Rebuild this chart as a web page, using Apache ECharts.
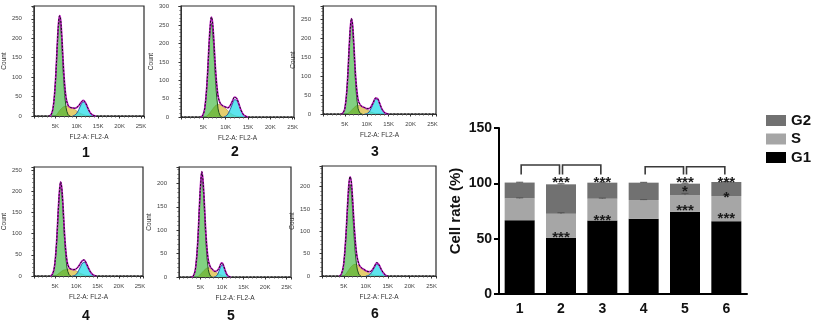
<!DOCTYPE html>
<html><head><meta charset="utf-8">
<script src="https://cdn.jsdelivr.net/npm/echarts@6.0.0/dist/echarts.min.js"></script>
<style>html,body{margin:0;padding:0;background:#fff}#c{width:813px;height:331px}</style>
</head><body><div id="c"></div>
<script>
// ---------- bar chart data ----------
const groups = ['1','2','3','4','5','6'];
const g1Rate = [66.7, 50.8, 66.5, 68.0, 74.3, 65.8];
const sRate  = [19.7, 21.7, 19.6, 16.9, 15.1, 22.7];
const g2Rate = [14.3, 26.6, 14.5, 15.7, 10.3, 12.7];
const sErr   = [0.5, 1.0, 0.6, 0.4, 1.5, 0.8];
const g2Err  = [0.3, 0.5, 0.4, 0.3, 0.5, 0.5];
const bracketPairs = [[0,1],[1,2],[3,4],[4,5]];
const bracketTop = [116.5, 116.5, 115, 115];
const bracketFoot = 108;
const starCat = [1, 1, 2, 2, 4, 4, 4, 5, 5, 5];
const starVal = [103.5, 53.6, 103.5, 69.2, 103, 94.6, 78, 103.5, 90, 70.4];
const starText = ['***','***','***','***','***','*','***','***','*','***'];

// ---------- histogram data (x in K, y = count) ----------
const p1G1 = [[3.5,0],[4,3],[4.5,22],[5,84],[5.5,188],[5.75,230],[6,246],[6.25,230],[6.5,188],[7,84],[7.5,22],[8,3],[8.5,0]];
const p1S  = [[5,0],[5.5,6],[6,14],[6.5,20],[7,24],[7.5,25],[8,24],[8.5,22],[9,20],[9.5,17],[10,13],[10.5,9],[11,6],[11.5,4],[12,2],[12.5,1],[13,0]];
const p1G2 = [[9,0],[9.5,2],[10,7],[10.5,17],[11,29],[11.5,36],[12,33],[12.5,22],[13,11],[13.5,4],[14,1],[14.5,0]];
const p1Fit= [[3.5,0],[4,3],[4.5,22],[5,84],[5.5,194],[5.75,240],[6,258],[6.25,247],[6.5,208],[7,108],[7.5,47],[8,27],[8.5,22],[9,21],[9.5,20],[10,22],[10.5,27],[11,35],[11.5,40],[12,35],[12.5,23],[13,11],[13.5,4],[14,1],[14.5,0]];

const p2G1 = [[4.3,0],[4.8,3],[5.3,22],[5.8,86],[6.3,193],[6.55,237],[6.8,255],[7.05,237],[7.3,193],[7.8,86],[8.3,22],[8.8,3],[9.3,0]];
const p2S  = [[5.5,0],[6,5],[6.5,12],[7,20],[7.5,28],[8,33],[8.5,34],[9,32],[9.5,28],[10,23],[10.5,17],[11,11],[11.5,7],[12,4],[12.5,2],[13,1],[13.5,0]];
const p2G2 = [[9.5,0],[10,2],[10.5,8],[11,20],[11.5,35],[12,47],[12.5,45],[13,32],[13.5,17],[14,6],[14.5,2],[15,0]];
const p2Fit= [[4.3,0],[4.8,3],[5.3,22],[5.8,88],[6.3,203],[6.55,250],[6.8,272],[7.05,259],[7.3,219],[7.8,118],[8.3,57],[8.8,37],[9.3,31],[9.8,28],[10.5,25],[11,31],[11.5,43],[12,54],[12.5,50],[13,34],[13.5,17],[14,6],[14.5,2],[15,0]];

const p3G1 = [[4,0],[4.5,2],[5,15],[5.5,71],[6,177],[6.25,223],[6.5,240],[6.75,223],[7,177],[7.5,71],[8,15],[8.5,2],[9,0]];
const p3S  = [[5.5,0],[6,4],[6.5,10],[7,16],[7.5,21],[8,23],[8.5,22],[9,19],[9.5,16],[10,12],[10.5,8],[11,5],[11.5,3],[12,1],[12.5,0]];
const p3G2 = [[9.5,0],[10,1],[10.5,5],[11,15],[11.5,28],[12,39],[12.5,38],[13,25],[13.5,12],[14,4],[14.5,1],[15,0]];
const p3Fit= [[4,0],[4.5,2],[5,15],[5.5,71],[6,181],[6.25,230],[6.5,252],[6.75,236],[7,193],[7.5,92],[8,38],[8.5,24],[9,19],[9.5,17],[10,14],[10.5,14],[11,20],[11.5,31],[12,42],[12.5,40],[13,26],[13.5,12],[14,4],[14.5,1],[15,0]];

const p4G1 = [[3.8,0],[4.3,3],[4.8,19],[5.3,72],[5.8,162],[6.05,197],[6.3,212],[6.55,197],[6.8,162],[7.3,72],[7.8,19],[8.3,3],[8.8,0]];
const p4S  = [[5,0],[5.5,3],[6,7],[6.5,11],[7,14],[7.5,15],[8,16],[8.5,16],[9,15],[9.5,14],[10,12],[10.5,9],[11,6],[11.5,4],[12,2],[12.5,1],[13,0]];
const p4G2 = [[9,0],[9.5,1],[10,4],[10.5,12],[11,22],[11.5,31],[12,32],[12.5,24],[13,14],[13.5,6],[14,2],[14.5,0]];
const p4Fit= [[3.8,0],[4.3,3],[4.8,19],[5.3,73],[5.8,167],[6.05,204],[6.3,222],[6.55,209],[6.8,176],[7.3,87],[7.8,35],[8.3,19],[8.8,16],[9.3,15],[9.8,16],[10.3,20],[10.8,27],[11.3,35],[11.8,38],[12.3,31],[12.8,20],[13.3,10],[13.8,4],[14.3,1],[14.8,0]];

const p5G1 = [[2.8,0],[3.3,2],[3.8,16],[4.3,67],[4.8,159],[5.05,197],[5.3,212],[5.55,197],[5.8,159],[6.3,67],[6.8,16],[7.3,2],[7.8,0]];
const p5S  = [[4.3,0],[4.8,4],[5.3,9],[5.8,14],[6.3,18],[6.8,20],[7.3,19],[7.8,16],[8.3,12],[8.8,9],[9.3,6],[9.8,4],[10.3,2],[10.8,1],[11.3,0]];
const p5G2 = [[8,0],[8.5,1],[9,6],[9.5,18],[10,26],[10.5,18],[11,6],[11.5,1],[12,0]];
const p5Fit= [[2.8,0],[3.3,2],[3.8,16],[4.3,67],[4.8,163],[5.05,204],[5.3,225],[5.55,209],[5.8,173],[6.3,85],[6.8,36],[7.3,21],[7.8,16],[8.3,12],[8.8,13],[9.3,19],[9.7,28],[10,30],[10.4,23],[10.8,12],[11.2,4],[11.6,1],[12,0]];

const p6G1 = [[3.9,0],[4.4,4],[4.9,23],[5.4,78],[5.9,161],[6.15,192],[6.4,205],[6.65,192],[6.9,161],[7.4,78],[7.9,23],[8.4,4],[8.9,0]];
const p6S  = [[5,0],[5.5,5],[6,12],[6.5,19],[7,24],[7.5,26],[8,25],[8.5,22],[9,18],[9.5,14],[10,11],[10.5,8],[11,5],[11.5,3],[12,2],[12.5,1],[13,0]];
const p6G2 = [[10,0],[10.5,1],[11,4],[11.5,11],[12,20],[12.5,26],[13,23],[13.5,15],[14,7],[14.5,2],[15,0]];
const p6Fit= [[3.9,0],[4.4,4],[4.9,23],[5.4,82],[5.9,171],[6.15,207],[6.4,222],[6.65,213],[6.9,184],[7.4,104],[7.9,49],[8.4,27],[8.9,19],[9.5,15],[10,12],[10.5,10],[11,10],[11.5,14],[12,22],[12.5,30],[13,25],[13.5,15],[14,7],[14.5,2],[15,0]];

const panelNames = ['1','2','3','4','5','6'];
const xTickStep = 5;   // K
const yTickStep = 50;  // counts
const panelXMax = [25.7, 25.3, 25.8, 25.7, 26, 26];
const panelYMax = [283, 302, 285, 257, 235, 246];

// ---------- layout (styles / positions) ----------
const panels = [
  {g1:p1G1, s:p1S, g2:p1G2, fit:p1Fit},
  {g1:p2G1, s:p2S, g2:p2G2, fit:p2Fit},
  {g1:p3G1, s:p3S, g2:p3G2, fit:p3Fit},
  {g1:p4G1, s:p4S, g2:p4G2, fit:p4Fit},
  {g1:p5G1, s:p5S, g2:p5G2, fit:p5Fit},
  {g1:p6G1, s:p6S, g2:p6G2, fit:p6Fit}
];
const boxes = [[31,6,113,110],[181,6,113,111],[323,6,113,108],[30,167,113,109],[179,167,112,110],[322,166,114,110]];
const numPos = [[87,154],[236,153],[376,153],[87,317],[232,317],[376,315]];

const FONT = 'Liberation Sans, Arial, sans-serif';
const grids = [], xAxes = [], yAxes = [], series = [], graphics = [];

panels.forEach((p, i) => {
  const b = boxes[i];
  grids.push({left:b[0], top:b[1], width:b[2], height:b[3], show:true, borderColor:'#2a2a2a', borderWidth:1.2, containLabel:false});
  xAxes.push({type:'value', gridIndex:i, min:0, max:panelXMax[i], interval:xTickStep,
    axisLine:{show:true, lineStyle:{color:'#333', width:1}},
    axisTick:{show:true, length:2.5, lineStyle:{color:'#333', width:1}},
    minorTick:{show:true, splitNumber:5, length:1.5, lineStyle:{color:'#555'}},
    splitLine:{show:false},
    axisLabel:{fontSize:6, color:'#444', fontFamily:FONT, margin:7, showMinLabel:false, showMaxLabel:false, formatter:v => v + 'K'},
    name:'FL2-A: FL2-A', nameLocation:'middle', nameGap:18, nameTextStyle:{fontSize:6.5, color:'#333', fontFamily:FONT}});
  yAxes.push({type:'value', gridIndex:i, min:0, max:panelYMax[i], interval:yTickStep,
    axisLine:{show:true, lineStyle:{color:'#333', width:1}},
    axisTick:{show:true, length:2.5, lineStyle:{color:'#333', width:1}},
    minorTick:{show:true, splitNumber:5, length:1.5, lineStyle:{color:'#555'}},
    splitLine:{show:false},
    axisLabel:{fontSize:6, color:'#444', fontFamily:FONT, margin:12, showMaxLabel:false},
    name:'Count', nameLocation:'middle', nameRotate:90, nameGap:22, nameTextStyle:{fontSize:6.5, color:'#333', fontFamily:FONT}});
  const common = {type:'line', xAxisIndex:i, yAxisIndex:i, showSymbol:false, smooth:0.35, silent:true, animation:false};
  series.push(Object.assign({}, common, {data:p.s, z:2, lineStyle:{color:'#a8943a', width:0.6}, areaStyle:{color:'rgb(228,206,110)', opacity:1}}));
  series.push(Object.assign({}, common, {data:p.g1, z:3, lineStyle:{color:'#1f4f1f', width:1}, areaStyle:{color:'rgb(40,175,40)', opacity:0.58}}));
  series.push(Object.assign({}, common, {data:p.g2, z:3, lineStyle:{color:'#2a5aa0', width:1}, areaStyle:{color:'rgb(40,220,232)', opacity:0.75}}));
  series.push(Object.assign({}, common, {data:p.fit, z:4, lineStyle:{color:'#c21ec8', width:1.7}}));
  series.push(Object.assign({}, common, {data:[[0,0]].concat(p.fit, [[panelXMax[i],0]]), z:5, smooth:0.35, lineStyle:{color:'#111', width:1, type:[2,1.5]}}));
  graphics.push({type:'text', left:numPos[i][0]-5, top:numPos[i][1]-8, style:{text:panelNames[i], font:'bold 14px ' + FONT, fill:'#111'}});
});

// ---------- bar chart ----------
const BI = 6;
grids.push({left:499, top:128, width:248, height:166, containLabel:false});
xAxes.push({type:'category', gridIndex:BI, data:groups,
  axisLine:{show:true, lineStyle:{color:'#000', width:2}},
  axisTick:{show:false},
  axisLabel:{fontSize:14, fontWeight:'bold', color:'#111', fontFamily:FONT, margin:8}});
yAxes.push({type:'value', gridIndex:BI, min:0, max:150, interval:50,
  axisLine:{show:true, lineStyle:{color:'#000', width:2}},
  axisTick:{show:true, length:5, lineStyle:{color:'#000', width:2}},
  splitLine:{show:false},
  axisLabel:{fontSize:14, fontWeight:'bold', color:'#111', fontFamily:FONT, margin:7},
  name:'Cell rate (%)', nameLocation:'middle', nameRotate:90, nameGap:36,
  nameTextStyle:{fontSize:15, fontWeight:'bold', color:'#111', fontFamily:FONT}});

const barCommon = {type:'bar', xAxisIndex:BI, yAxisIndex:BI, stack:'rate', barWidth:30, animation:false};
series.push(Object.assign({}, barCommon, {name:'G1', data:g1Rate, itemStyle:{color:'#000'}}));
series.push(Object.assign({}, barCommon, {name:'S', data:sRate, itemStyle:{color:'#a6a6a6'}}));
series.push(Object.assign({}, barCommon, {name:'G2', data:g2Rate, itemStyle:{color:'#717171'}}));

// error bars at top of S and G2 segments
const errData = [];
groups.forEach((g, i) => {
  errData.push([i, g1Rate[i] + sRate[i], sErr[i]]);
  errData.push([i, g1Rate[i] + sRate[i] + g2Rate[i], g2Err[i]]);
});
series.push({type:'custom', xAxisIndex:BI, yAxisIndex:BI, data:errData, z:6, animation:false, silent:true,
  renderItem:(params, api) => {
    const c = api.value(0), y = api.value(1), e = api.value(2);
    const p0 = api.coord([c, y]), p1 = api.coord([c, y + e]);
    const st = {stroke:'#555', lineWidth:1};
    return {type:'group', children:[
      {type:'line', shape:{x1:p0[0], y1:p0[1], x2:p1[0], y2:p1[1]}, style:st},
      {type:'line', shape:{x1:p1[0]-3.5, y1:p1[1], x2:p1[0]+3.5, y2:p1[1]}, style:st}
    ]};
  }});

// significance brackets
series.push({type:'custom', xAxisIndex:BI, yAxisIndex:BI, data:bracketPairs.map((b, k) => [b[0], b[1], bracketTop[k], bracketFoot]), z:6, animation:false, silent:true,
  renderItem:(params, api) => {
    const a = api.coord([api.value(0), api.value(2)]);
    const b = api.coord([api.value(1), api.value(2)]);
    const foot = api.coord([api.value(0), api.value(3)]);
    const xa = a[0] + 1.5, xb = b[0] - 1.5;
    return {type:'polyline', shape:{points:[[xa, foot[1]], [xa, a[1]], [xb, b[1]], [xb, foot[1]]]},
      style:{stroke:'#3a3a3a', lineWidth:1.6, fill:null}};
  }});

// asterisks
series.push({type:'custom', xAxisIndex:BI, yAxisIndex:BI, data:starCat.map((c, k) => [c, starVal[k]]), z:7, animation:false, silent:true,
  renderItem:(params, api) => {
    const p = api.coord([api.value(0), api.value(1)]);
    return {type:'text', x:p[0], y:p[1] + 3, style:{text:starText[params.dataIndex], font:'bold 15px ' + FONT, fill:'#1a1a1a', align:'center', verticalAlign:'middle'}};
  }});

const chart = echarts.init(document.getElementById('c'), null, {renderer:'canvas'});
chart.setOption({
  animation:false,
  backgroundColor:'#fff',
  grid:grids, xAxis:xAxes, yAxis:yAxes, series:series, graphic:graphics,
  legend:{data:['G2','S','G1'], orient:'vertical', left:761, top:108, itemWidth:20, itemHeight:11, itemGap:3.5, icon:'rect',
    textStyle:{fontSize:15, fontWeight:'bold', color:'#111', fontFamily:FONT}, selectedMode:false}
});
</script>
</body></html>
